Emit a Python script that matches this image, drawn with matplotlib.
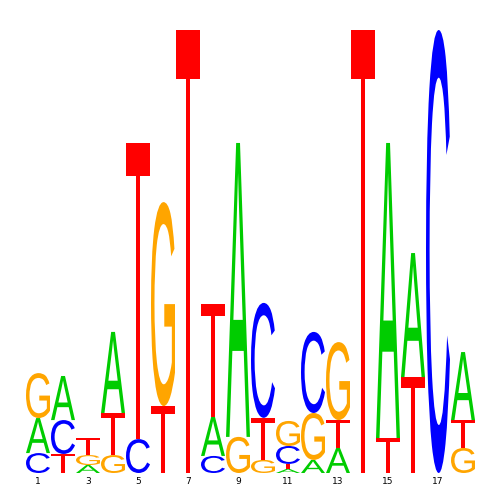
import matplotlib
matplotlib.use('Agg')
import matplotlib.pyplot as plt
from matplotlib.textpath import TextPath
from matplotlib.patches import PathPatch
from matplotlib.font_manager import FontProperties
from matplotlib.transforms import Affine2D

# information content (bits) per base at each position
positions = list(range(1, 19))
height_A = [0.158, 0.199, 0.036, 0.366, 0, 0, 0, 0.176, 1.327, 0, 0.018, 0.059, 0.113, 0, 1.332, 0.56, 0, 0.307]
height_C = [0.09, 0.153, 0, 0, 0.153, 0, 0, 0.077, 0, 0.519, 0.081, 0.366, 0, 0, 0, 0, 2.0, 0]
height_G = [0.203, 0, 0.045, 0.081, 0, 0.921, 0, 0, 0.163, 0.059, 0.113, 0.212, 0.352, 0, 0, 0, 0, 0.113]
height_T = [0, 0.086, 0.077, 0.19, 1.336, 0.302, 2.0, 0.51, 0, 0.19, 0.023, 0, 0.126, 2.0, 0.158, 0.433, 0, 0.126]
tick_labels = ['1', '3', '5', '7', '9', '11', '13', '15', '17']

colors = {'A': '#00CC00', 'C': '#0000FF', 'G': '#FFA500', 'T': '#FF0000'}
font = FontProperties(family='Liberation Sans')


def draw_letter(ax, letter, x, y, w, h):
    """ Draws a letter stretched to fill the box (x, y, w, h)."""
    path = TextPath((0, 0), letter, size=1, prop=font)
    ext = path.get_extents()
    tr = (Affine2D()
          .translate(-ext.x0, -ext.y0)
          .scale(w / ext.width, h / ext.height)
          .translate(x, y))
    ax.add_patch(PathPatch(tr.transform_path(path), facecolor=colors[letter],
                           edgecolor='none'))


fig = plt.figure(figsize=(5, 5), dpi=100)
ax = fig.add_axes([0.051, 0.054, 0.9, 0.886])

width = 0.96
for i, pos in enumerate(positions):
    col = [('A', height_A[i]), ('C', height_C[i]), ('G', height_G[i]), ('T', height_T[i])]
    col = sorted([c for c in col if c[1] > 0], key=lambda c: c[1])
    y = 0
    for letter, h in col:
        draw_letter(ax, letter, pos - width / 2, y, width, h)
        y += h

ax.set_xlim(0.5, 18.5)
ax.set_ylim(0, 2)
ax.set_xticks([int(t) for t in tick_labels])
ax.set_xticklabels(tick_labels, fontsize=6.5)
ax.tick_params(axis='x', length=0, pad=3)
ax.set_yticks([])
for s in ax.spines.values():
    s.set_visible(False)

fig.savefig('out.png', dpi=100)
